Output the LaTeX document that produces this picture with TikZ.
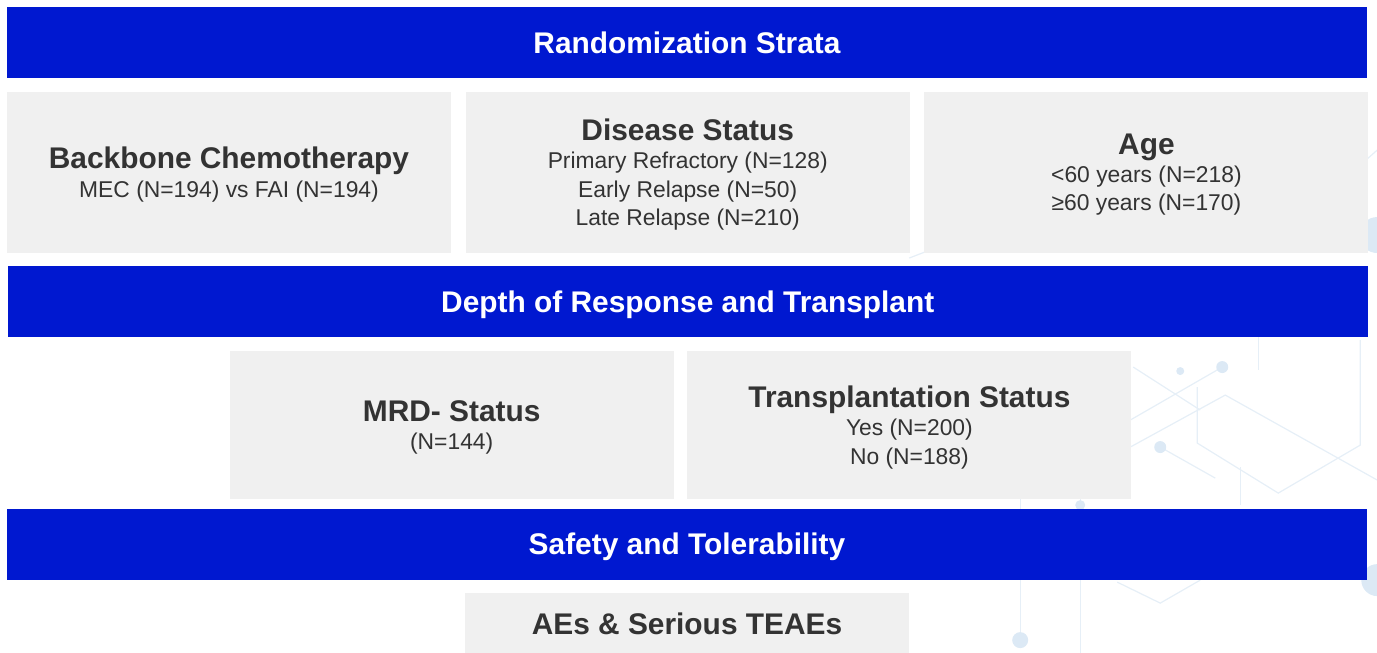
\documentclass[tikz,border=0pt]{standalone}
\usepackage{fontspec}
\setmainfont{Liberation Sans}
\usepackage{xcolor}
\usetikzlibrary{positioning}

\definecolor{barblue}{RGB}{0,24,208}
\definecolor{cellgray}{RGB}{240,240,240}
\definecolor{inkgray}{RGB}{51,51,51}
\definecolor{netline}{RGB}{230,239,247}
\definecolor{netdot}{RGB}{220,233,245}

\newcommand{\headfont}{\fontsize{17}{20}\selectfont\bfseries}
\newcommand{\subfont}{\fontsize{13}{16}\selectfont}

\begin{document}
\begin{tikzpicture}[
    bar/.style = {rectangle, fill = barblue, text = white, font = \headfont, minimum width = 27.2cm, minimum height = 1.42cm, inner sep = 0pt, text depth = 0pt},
    cell/.style = {rectangle, fill = cellgray, text = inkgray, font = \subfont, align = center, minimum width = 8.88cm, minimum height = 3.22cm, inner sep = 0pt, text depth = 0pt},
    wire/.style = {draw = netline, line width = 0.7pt},
    dot/.style = {fill = netdot}
]

    \useasboundingbox (0,0) rectangle (27.54,-13.06);

    % faint network in the background (pixel units)
    \begin{scope}[x = 0.02cm, y = -0.02cm]
        \draw[wire] (1130,420) -- (1222,367);
        \draw[wire] (1130,447) -- (1225,395) -- (1377,480);
        \draw[wire] (1197,387) -- (1197,443) -- (1278,493) -- (1360,445) -- (1360,340);
        \draw[wire] (1160,447) -- (1215,478);
        \draw[wire] (1258,336) -- (1258,370);
        \draw[wire] (1133,367) -- (1200,410);
        \draw[wire] (1240,467) -- (1240,505);
        \draw[wire] (1020,497) -- (1020,640);
        \draw[wire] (1080,497) -- (1080,653);
        \draw[wire] (1117,582) -- (1160,603) -- (1200,580);
        \draw[wire] (909,258) -- (935,248);
        \draw[wire] (1360,165) -- (1377,150);
        \fill[dot] (1222,367) circle (6);
        \fill[dot] (1180,371) circle (4);
        \fill[dot] (1160,447) circle (6);
        \fill[dot] (1020,640) circle (8);
        \fill[dot] (1080,505) circle (5);
        \fill[dot] (1377,235) circle (18);
        \fill[dot] (1377,580) circle (16);
    \end{scope}

    \node[bar] (strata) at (13.74,-0.85) {Randomization Strata};

    \node[cell] (chemo) [below right=0.26cm and 0cm of strata.south west] {{\headfont Backbone Chemotherapy}\\MEC (N=194) vs FAI (N=194)};
    \node[cell] (disease) [right=0.28cm of chemo] {{\headfont Disease Status}\\Primary Refractory (N=128)\\Early Relapse (N=50)\\Late Relapse (N=210)};
    \node[cell] (age) [right=0.28cm of disease] {{\headfont Age}\\<60 years (N=218)\\≥60 years (N=170)};

    \node[bar] (response) [below=0.26cm of disease] {Depth of Response and Transplant};

    \node[cell] (mrd) [below right=0.26cm and 4.44cm of response.south west, minimum height = 2.96cm] {{\headfont MRD- Status}\\(N=144)};
    \node[cell] (transplant) [right=0.26cm of mrd, minimum height = 2.96cm] {{\headfont Transplantation Status}\\Yes (N=200)\\No (N=188)};

    \node[bar] (safety) at (13.74,-10.88) {Safety and Tolerability};

    \node[cell] (aes) [below=0.26cm of safety, minimum height = 1.2cm] {{\headfont AEs \& Serious TEAEs}};

\end{tikzpicture}
\end{document}
